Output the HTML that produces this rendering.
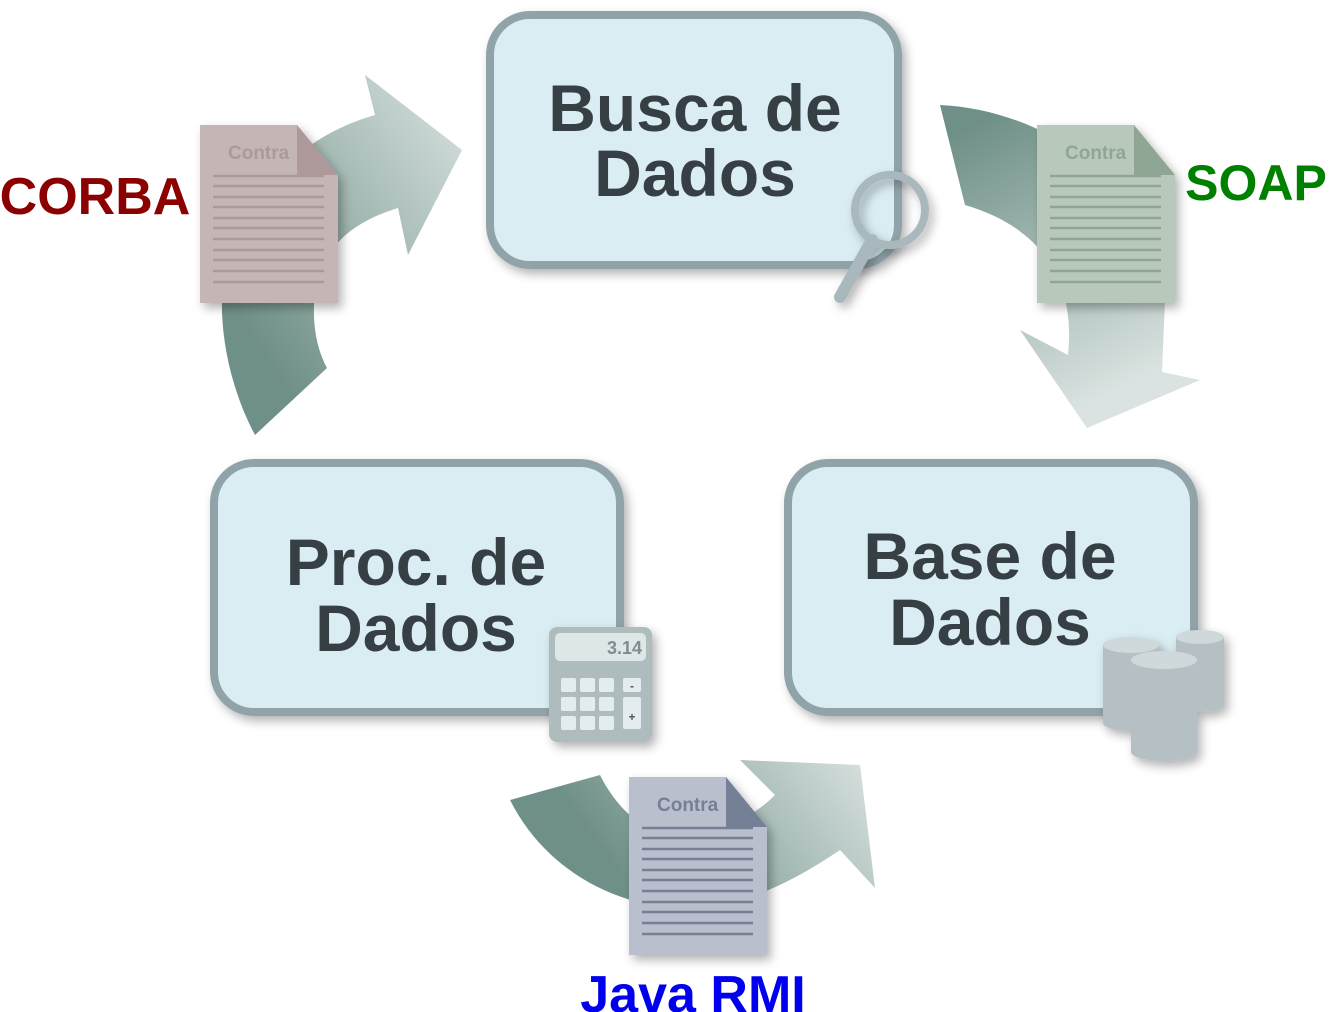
<!DOCTYPE html>
<html><head><meta charset="utf-8"><style>
html,body{margin:0;padding:0;background:#fff;}
svg{display:block;}
text{font-family:"Liberation Sans",sans-serif;font-weight:bold;}
</style></head><body>
<svg width="1329" height="1012" viewBox="0 0 1329 1012" xmlns="http://www.w3.org/2000/svg">
<defs>
<linearGradient id="ga" x1="0" y1="1" x2="1" y2="0"><stop offset="0.2" stop-color="#6f9088"/><stop offset="1" stop-color="#dae3e1"/></linearGradient>
<linearGradient id="gb" x1="0" y1="0" x2="0.4" y2="1"><stop offset="0.1" stop-color="#6f9088"/><stop offset="1" stop-color="#dae3e1"/></linearGradient>
<linearGradient id="gc" x1="0" y1="0.3" x2="1" y2="0"><stop offset="0.15" stop-color="#6f9088"/><stop offset="1" stop-color="#dae3e1"/></linearGradient>
<filter id="sh" x="-20%" y="-20%" width="140%" height="140%"><feDropShadow dx="4" dy="5" stdDeviation="5" flood-color="#000" flood-opacity="0.3"/></filter>
</defs>
<path d="M255,435 C215,360 205,250 260,190 C300,145 340,125 375,115 L365,75 L462,150 L408,255 L398,208 C360,220 325,240 315,290 C312,320 315,345 327,368 Z" fill="url(#ga)"/>
<path d="M940,105 C1050,110 1160,190 1165,300 L1162,372 L1200,380 L1087,428 L1020,330 L1068,355 C1075,290 1050,230 965,205 Z" fill="url(#gb)"/>
<path d="M510,800 C550,880 640,920 720,905 C770,895 810,870 840,850 L875,888 L860,765 L740,760 L775,795 C740,830 690,840 650,830 C625,815 610,795 600,775 Z" fill="url(#gc)"/>
<rect x="490" y="15" width="408" height="250" rx="40" fill="#d9edf3" stroke="#8fa3a8" stroke-width="8" filter="url(#sh)"/>
<rect x="214" y="463" width="406" height="249" rx="40" fill="#d9edf3" stroke="#8fa3a8" stroke-width="8" filter="url(#sh)"/>
<rect x="788" y="463" width="406" height="249" rx="40" fill="#d9edf3" stroke="#8fa3a8" stroke-width="8" filter="url(#sh)"/>
<g fill="#353f44" font-size="66" text-anchor="middle">
<text x="695" y="131">Busca de</text><text x="695" y="196">Dados</text>
<text x="416" y="585">Proc. de</text><text x="416" y="651">Dados</text>
<text x="990" y="579">Base de</text><text x="990" y="645">Dados</text>
</g>
<g filter="url(#sh)"><line x1="872" y1="240" x2="840" y2="297" stroke="#a9b8bc" stroke-width="12" stroke-linecap="round"/>
<circle cx="890" cy="210" r="35" fill="none" stroke="#a9b8bc" stroke-width="8"/></g>
<g filter="url(#sh)"><rect x="549" y="627" width="103" height="115" rx="8" fill="#aebcbe"/>
<rect x="555" y="633" width="91" height="28" rx="5" fill="#dde7e8"/>
<text x="642" y="654" font-size="18" fill="#7f8d90" text-anchor="end">3.14</text>
<g fill="#e3ecee"><rect x="561" y="678" width="15" height="14" rx="2"/><rect x="580" y="678" width="15" height="14" rx="2"/><rect x="599" y="678" width="15" height="14" rx="2"/><rect x="623" y="678" width="18" height="14" rx="2"/>
<rect x="561" y="697" width="15" height="14" rx="2"/><rect x="580" y="697" width="15" height="14" rx="2"/><rect x="599" y="697" width="15" height="14" rx="2"/><rect x="623" y="697" width="18" height="32" rx="2"/>
<rect x="561" y="716" width="15" height="14" rx="2"/><rect x="580" y="716" width="15" height="14" rx="2"/><rect x="599" y="716" width="15" height="14" rx="2"/></g>
<text x="632" y="690" font-size="12" fill="#555" text-anchor="middle">-</text><text x="632" y="721" font-size="12" fill="#555" text-anchor="middle">+</text></g>
<g filter="url(#sh)" fill="#b4c0c3">
<path d="M1176,637 v68 a24,7 0 0 0 48,0 v-68 Z"/><ellipse cx="1200" cy="637" rx="24" ry="7" fill="#cfd8da"/>
<path d="M1103,645 v78 a28,8 0 0 0 56,0 v-78 Z"/><ellipse cx="1131" cy="645" rx="28" ry="8" fill="#cfd8da"/>
<path d="M1131,660 v92 a33,9 0 0 0 66,0 v-92 Z"/><ellipse cx="1164" cy="660" rx="33" ry="9" fill="#cfd8da"/>
</g>
<g filter="url(#sh)">
<path d="M200,125 H297 L338,175 V303 H200 Z" fill="#c5b5b5"/><path d="M297,125 L338,175 H297 Z" fill="#ad9999"/>
<text x="228" y="159" font-size="19" fill="#ad9999">Contra</text>
<g stroke="#ad9999" stroke-width="2.5"><path d="M213,176H324M213,186H324M213,197H324M213,207H324M213,218H324M213,228H324M213,239H324M213,250H324M213,260H324M213,271H324M213,282H324"/></g>
</g>
<g filter="url(#sh)">
<path d="M1037,125 H1134 L1175,175 V303 H1037 Z" fill="#b8c9bb"/><path d="M1134,125 L1175,175 H1134 Z" fill="#8fa695"/>
<text x="1065" y="159" font-size="19" fill="#8fa695">Contra</text>
<g stroke="#8fa695" stroke-width="2.5"><path d="M1050,176H1161M1050,186H1161M1050,197H1161M1050,207H1161M1050,218H1161M1050,228H1161M1050,239H1161M1050,250H1161M1050,260H1161M1050,271H1161M1050,282H1161"/></g>
</g>
<g filter="url(#sh)">
<path d="M629,777 H726 L767,827 V955 H629 Z" fill="#b9bfcc"/><path d="M726,777 L767,827 H726 Z" fill="#747f96"/>
<text x="657" y="811" font-size="19" fill="#747f96">Contra</text>
<g stroke="#747f96" stroke-width="2.5"><path d="M642,828H753M642,838H753M642,849H753M642,859H753M642,870H753M642,880H753M642,891H753M642,902H753M642,912H753M642,923H753M642,934H753"/></g>
</g>
<text x="95" y="214" font-size="52" fill="#8b0000" text-anchor="middle">CORBA</text>
<text x="1256" y="200" font-size="50" fill="#008000" text-anchor="middle">SOAP</text>
<text x="693" y="1012" font-size="52" fill="#0000ee" text-anchor="middle">Java RMI</text>
</svg>
</body></html>
